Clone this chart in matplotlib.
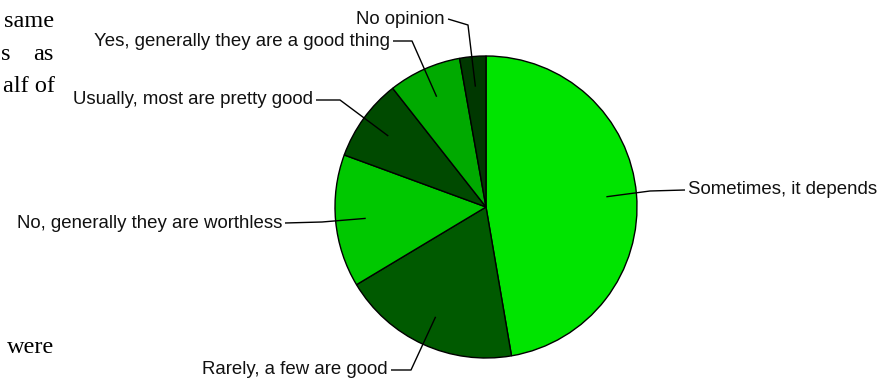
import numpy as np
import matplotlib
matplotlib.use("Agg")
from matplotlib import pyplot as plt

# survey answers, clockwise from 12 o'clock
labels = ['Sometimes, it depends', 'Rarely, a few are good',
          'No, generally they are worthless', 'Usually, most are pretty good',
          'Yes, generally they are a good thing', 'No opinion']
shares = [47.3, 19.1, 14.2, 8.8, 7.8, 2.8]
colors = ['#00e400', '#005a00', '#00c800', '#004a00', '#00aa00', '#003800']

# pixel layout (y measured from top of image)
W, H = 891, 381
cx, cy, R = 486, 207, 151
# elbow point and label end point of each leader line
leaders = [((650, 191), (685, 190)),
           ((411, 370), (391, 370)),
           ((322, 222), (285, 223)),
           ((340, 100), (316, 100)),
           ((412, 41), (393, 41)),
           ((468, 25), (448, 19))]

plt.rcParams['font.family'] = ['Liberation Sans', 'DejaVu Sans']
fig = plt.figure(figsize=(W / 100, H / 100), dpi=100)
ax = fig.add_axes([0, 0, 1, 1])

wedges, _ = ax.pie(shares, colors=colors, startangle=90, counterclock=False,
                   center=(cx, H - cy), radius=R,
                   wedgeprops=dict(edgecolor='black', linewidth=1.0))
ax.set_xlim(0, W)
ax.set_ylim(0, H)
ax.set_aspect('equal')
ax.axis('off')

for w, lab, (elbow, end) in zip(wedges, labels, leaders):
    mid = np.deg2rad((w.theta1 + w.theta2) / 2)
    px = cx + 0.8 * R * np.cos(mid)
    py = (H - cy) + 0.8 * R * np.sin(mid)
    ax.plot([px, elbow[0], end[0]], [py, H - elbow[1], H - end[1]],
            color='black', lw=1.0, solid_capstyle='butt')
    if end[0] > cx:
        ax.text(end[0] + 3, H - end[1], lab, ha='left', va='center',
                fontsize=13.4, color='#111111')
    else:
        ax.text(end[0] - 3, H - end[1], lab, ha='right', va='center',
                fontsize=13.4, color='#111111')

# fragments of the surrounding page text
serif = dict(family=['Liberation Serif', 'DejaVu Serif'], fontsize=17.5,
             color='black', va='baseline')
ax.text(54, H - 27, 'same', ha='right', **serif)
ax.text(1, H - 60, 's', ha='left', **serif)
ax.text(54, H - 60, 'as', ha='right', **serif)
ax.text(55, H - 92, 'alf of', ha='right', **serif)
ax.text(54, H - 353, 'were', ha='right', **serif)

fig.savefig('out.png', dpi=100)
